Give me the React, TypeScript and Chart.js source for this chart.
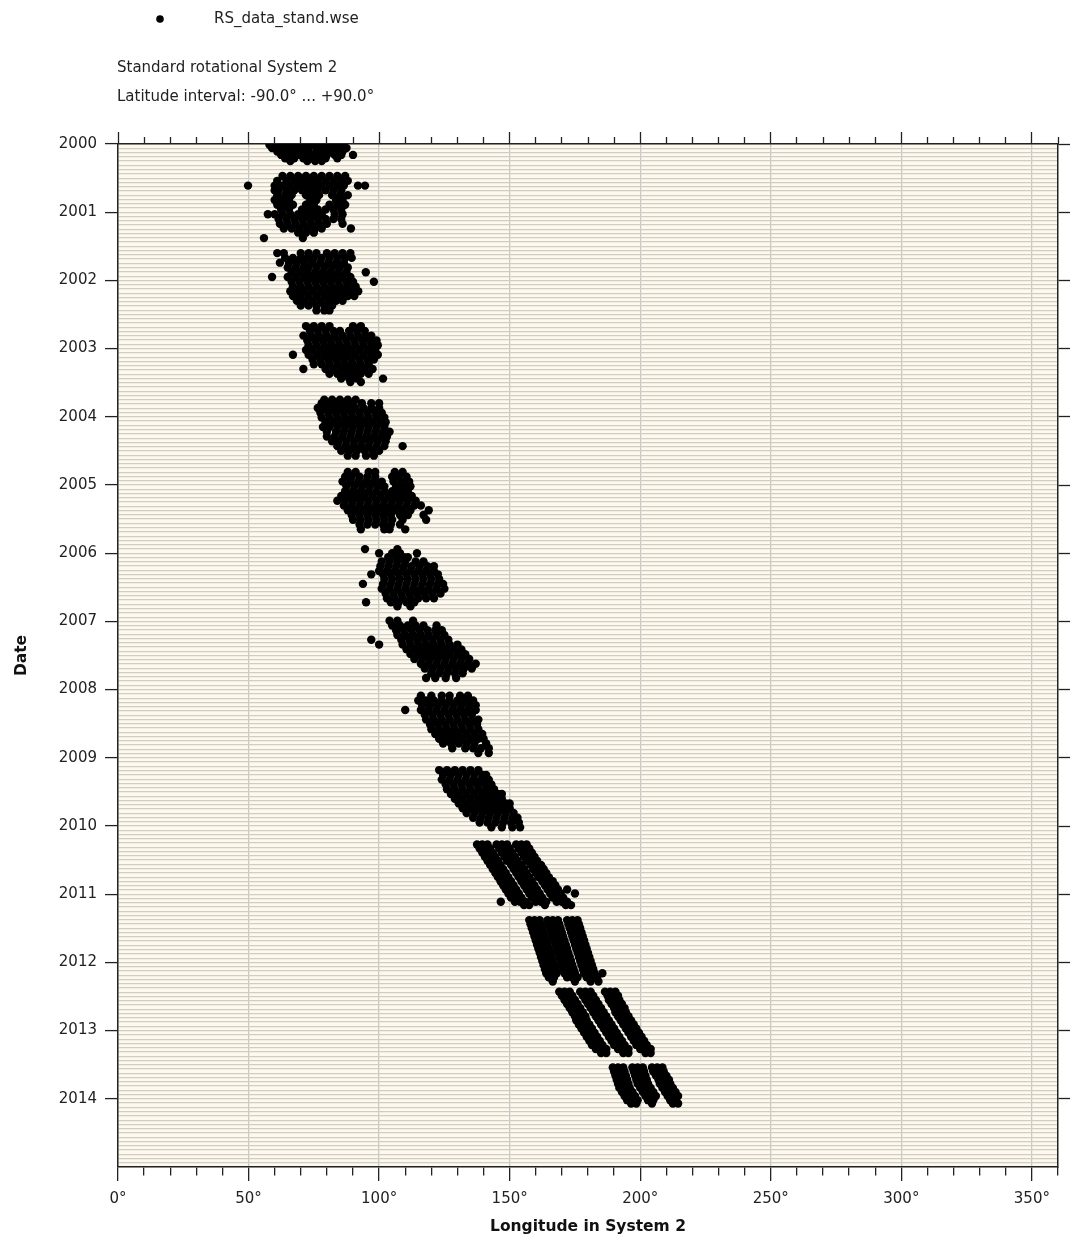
import React, { useEffect, useRef } from 'react';
import { Chart, registerables } from 'chart.js';

Chart.register(...registerables);

// Each row: [date (decimal year), longitude, longitude, ...]
type Row = number[];

const SERIES_LABEL = 'RS_data_stand.wse';
const HEADER_LINES = ['Standard rotational System 2', 'Latitude interval: -90.0° ... +90.0°'];
const X_TITLE = 'Longitude in System 2';
const Y_TITLE = 'Date';
const LON_MIN = 0;
const LON_MAX = 360;
const YEAR_MIN = 2000;
const YEAR_MAX = 2015;

const app2000: Row[] = [
  [2000.01, 58, 60.5, 63, 66, 69, 72, 75, 78, 81, 84, 86.5],
  [2000.06, 59, 62, 65, 68, 70.5, 73, 76, 79, 82.5, 85, 87.5],
  [2000.11, 61, 64, 67, 70, 73, 76, 78.5, 81, 84, 86],
  [2000.16, 62.5, 66, 69, 72, 74.5, 77, 80, 83, 85.5, 90],
  [2000.21, 64, 67.5, 71, 74, 77, 79.5, 84],
  [2000.25, 66, 72.5, 75.5, 78],
];

const app2001: Row[] = [
  [2000.47, 63, 66, 69, 72, 75, 78, 81, 84, 87],
  [2000.54, 61, 64.5, 67.5, 70.5, 73.5, 76.5, 79.5, 82.5, 85.5, 88],
  [2000.61, 49.8, 60, 63, 66, 69, 72, 75, 78, 81, 84, 86.5, 91.9, 94.6],
  [2000.68, 60, 61.5, 64.5, 67.5, 70.5, 73.5, 76.5, 79.5, 82.5, 85.5],
  [2000.75, 61, 64, 66.5, 72, 75, 77, 82, 85, 88],
  [2000.82, 60, 62.5, 65.5, 73.5, 76, 83.5, 86],
  [2000.89, 61, 64, 67, 72, 75, 81, 84, 87],
  [2000.96, 62.5, 65.5, 70.5, 73.5, 76.5, 79.5, 82.5, 85.5],
  [2001.03, 57.4, 60, 63, 66, 69, 72, 75, 78, 83, 86],
  [2001.1, 61.5, 64.5, 67.5, 70.5, 73.5, 76.5, 79.5, 82.5, 85.5],
  [2001.17, 62, 65, 68, 71, 74, 77, 80, 86],
  [2001.24, 63.5, 66.5, 69.5, 72.5, 75.5, 78, 89.2],
  [2001.3, 69, 72, 75],
  [2001.38, 55.9, 70.8],
];

const app2002: Row[] = [
  [2001.6, 61, 63.5, 70, 73, 76, 80, 83, 86, 89],
  [2001.67, 64, 67, 70, 72.5, 75, 78, 81, 84, 87, 89.5],
  [2001.74, 62, 65.5, 68.5, 71.5, 74.5, 77.5, 80.5, 83.5, 86.5],
  [2001.81, 65, 68, 71, 73, 76, 79, 82, 85, 88],
  [2001.88, 66.5, 69.5, 72.5, 75.5, 78.5, 81.5, 84.5, 87.5, 94.9],
  [2001.95, 59, 65, 68, 71, 74, 77, 80, 83, 86, 89],
  [2002.02, 66.5, 69.5, 72.5, 75.5, 78.5, 81.5, 84.5, 87.5, 90, 98],
  [2002.09, 67, 70, 73, 76, 79, 82, 85, 88, 91],
  [2002.16, 66, 68.5, 71.5, 74.5, 77.5, 80.5, 83.5, 86.5, 89.5, 92],
  [2002.23, 67, 70, 73, 76, 79, 82, 85, 88, 90.5],
  [2002.3, 68.5, 71.5, 74.5, 77.5, 80.5, 83.5, 86],
  [2002.37, 70, 73, 76, 79, 82],
  [2002.44, 76, 79, 81],
];

const app2003: Row[] = [
  [2002.67, 72, 75, 78, 81, 90, 93],
  [2002.74, 73.5, 76.5, 79.5, 82.5, 85, 88.5, 91.5, 94.5],
  [2002.81, 71, 74, 77, 80, 83, 86, 89, 92, 95, 97],
  [2002.88, 72.5, 75.5, 78.5, 81.5, 84.5, 87.5, 90.5, 93.5, 96.5, 99],
  [2002.95, 73, 76, 79, 82, 85, 88, 91, 94, 97, 99.5],
  [2003.02, 72, 74.5, 77.5, 80.5, 83.5, 86.5, 89.5, 92.5, 95.5, 98.5],
  [2003.09, 67, 73, 76, 79, 82, 85, 88, 91, 94, 97, 99.5],
  [2003.16, 74.5, 77.5, 80.5, 83.5, 86.5, 89.5, 92.5, 95.5, 98],
  [2003.23, 75, 78, 81, 84, 87, 90, 93, 96],
  [2003.3, 71, 79.5, 82.5, 85.5, 88.5, 91.5, 94.5, 97.5],
  [2003.37, 81, 84, 87, 90, 93, 96],
  [2003.44, 85.5, 88.5, 91.5, 101.5],
  [2003.49, 89, 93],
];

const app2004: Row[] = [
  [2003.75, 79, 82, 85, 88, 91],
  [2003.8, 78, 80.5, 83.5, 86.5, 89.5, 93.4, 97, 100],
  [2003.87, 76.5, 79, 82, 85, 88, 91, 94, 97, 100],
  [2003.94, 77.5, 80.5, 83.5, 86.5, 89.5, 92.5, 95.5, 98.5, 101],
  [2004.01, 78, 81, 84, 87, 90, 93, 96, 99, 102],
  [2004.08, 79.5, 82.5, 85.5, 88.5, 91.5, 94.5, 97.5, 100.5, 102.5],
  [2004.15, 78.5, 81, 84, 87, 90, 93, 96, 99, 102],
  [2004.22, 80, 83.5, 86.5, 89.5, 92.5, 95.5, 98.5, 101.5, 104],
  [2004.29, 80, 83, 86, 89, 92, 95, 98, 101, 103],
  [2004.36, 82, 84.5, 87.5, 90.5, 93.5, 96.5, 99.5, 102.5],
  [2004.43, 84, 87, 90, 93, 96, 99, 102, 109],
  [2004.5, 85.5, 88.5, 91.5, 94.5, 97.5, 100],
  [2004.57, 88, 91, 95, 98],
];

const app2005: Row[] = [
  [2004.81, 88, 91, 96, 98.5, 106, 109],
  [2004.88, 87, 89.5, 92.5, 95.5, 98.5, 105, 107.5, 110.5],
  [2004.95, 86, 89, 92, 95, 98, 101, 105.5, 108.5, 111.5],
  [2005.02, 87.5, 90.5, 93.5, 96.5, 99.5, 102, 106.5, 109.5, 112],
  [2005.09, 87, 90, 93, 96, 99, 102, 105, 108, 111],
  [2005.16, 85.5, 88.5, 91.5, 94.5, 97.5, 100.5, 103.5, 106.5, 109.5, 112.5],
  [2005.23, 84, 87, 90, 93, 96, 99, 102, 105, 108, 111, 114],
  [2005.3, 86.5, 89.5, 92.5, 95.5, 98.5, 101.5, 104.5, 107.5, 110.5, 113.5, 116],
  [2005.37, 88, 91, 94, 97, 100, 103, 106, 109, 112, 119],
  [2005.44, 89.5, 92.5, 95.5, 98.5, 101.5, 104.5, 108, 111, 117],
  [2005.51, 90, 93, 96, 99, 102, 105, 109, 118],
  [2005.58, 92.5, 95.5, 98.5, 101.5, 104.5, 108],
  [2005.65, 93, 102, 104, 110],
];

const app2006: Row[] = [
  [2005.94, 94.6, 107],
  [2006.0, 100, 105, 108, 114.5],
  [2006.06, 103.5, 106.5, 109.5, 111],
  [2006.12, 101, 104, 107, 110, 114, 117],
  [2006.19, 100.5, 103.5, 106.5, 109.5, 112.5, 115.5, 118.5, 121],
  [2006.26, 100, 103, 106, 109, 112, 115, 118, 121],
  [2006.31, 97, 101.5, 104.5, 107.5, 110.5, 113.5, 116.5, 119.5, 122.5],
  [2006.38, 102, 105, 108, 111, 114, 117, 120, 123],
  [2006.45, 93.8, 101.5, 104.5, 107.5, 110.5, 113.5, 116.5, 119.5, 122.5, 124.5],
  [2006.52, 101, 104, 107, 110, 113, 116, 119, 122, 125],
  [2006.59, 102.5, 105.5, 108.5, 111.5, 114.5, 117.5, 120.5, 123.5],
  [2006.66, 103, 106, 109, 112, 115, 118, 121],
  [2006.72, 95, 104.5, 107.5, 110.5, 113.5],
  [2006.78, 107, 112],
];

const app2007: Row[] = [
  [2006.99, 104, 107, 113],
  [2007.06, 105, 108, 111, 114, 117, 122],
  [2007.13, 106.5, 109.5, 112.5, 115.5, 118.5, 121.5, 124],
  [2007.2, 107, 110, 113, 116, 119, 122, 125],
  [2007.27, 97, 108.5, 111.5, 114.5, 117.5, 120.5, 123.5, 126.5],
  [2007.34, 100, 109, 112, 115, 118, 121, 124, 127, 130],
  [2007.41, 110.5, 113.5, 116.5, 119.5, 122.5, 125.5, 128.5, 131.5],
  [2007.48, 112, 115, 118, 121, 124, 127, 130, 133],
  [2007.55, 113.5, 116.5, 119.5, 122.5, 125.5, 128.5, 131.5, 134.5],
  [2007.62, 116, 119, 122, 125, 128, 131, 134, 137],
  [2007.69, 117.5, 120.5, 123.5, 126.5, 129.5, 132.5, 135.5],
  [2007.76, 120, 123, 126, 129, 132],
  [2007.83, 118, 121.5, 125.5, 129.5],
];

const app2008: Row[] = [
  [2008.09, 116, 120, 124, 127, 131, 134],
  [2008.16, 115, 118, 121, 124, 127, 130, 133, 136],
  [2008.23, 116.5, 119.5, 122.5, 125.5, 128.5, 131.5, 134.5, 137],
  [2008.3, 110, 116, 119, 122, 125, 128, 131, 134, 137],
  [2008.37, 117.5, 120.5, 123.5, 126.5, 129.5, 132.5, 135.5],
  [2008.44, 118, 121, 124, 127, 130, 133, 136, 138],
  [2008.51, 119.5, 122.5, 125.5, 128.5, 131.5, 134.5, 137.5],
  [2008.58, 120, 123, 126, 129, 132, 135, 138],
  [2008.65, 121.5, 124.5, 127.5, 130.5, 133.5, 136.5, 139.5],
  [2008.72, 123, 126, 129, 132, 135, 138, 140],
  [2008.79, 124.5, 127.5, 130.5, 133.5, 136.5, 141],
  [2008.86, 128, 133, 136, 139, 142],
  [2008.93, 138, 142],
];

const app2009: Row[] = [
  [2009.18, 123, 126, 129, 132, 135, 138],
  [2009.25, 124.5, 127.5, 130.5, 133.5, 136.5, 139.5, 141],
  [2009.32, 124, 127, 130, 133, 136, 139, 142],
  [2009.39, 125.5, 128.5, 131.5, 134.5, 137.5, 140.5, 143],
  [2009.46, 126, 129, 132, 135, 138, 141, 144],
  [2009.53, 127.5, 130.5, 133.5, 136.5, 139.5, 142.5, 145.5, 147],
  [2009.6, 129, 132, 135, 138, 141, 144, 147],
  [2009.67, 130.5, 133.5, 136.5, 139.5, 142.5, 145.5, 148.5, 150],
  [2009.74, 132, 135, 138, 141, 144, 147, 150],
  [2009.81, 133.5, 136.5, 139.5, 142.5, 145.5, 148.5, 151.5],
  [2009.88, 136, 139, 142, 145, 148, 151, 153],
  [2009.95, 138.5, 141.5, 144.5, 147.5, 150.5, 153.5],
  [2010.02, 143, 147, 151, 154],
];

const app2010: Row[] = [
  [2010.27, 137.5, 139.5, 141.5, 145, 147, 149, 152.5, 154.5, 156.5],
  [2010.33, 138.5, 140.5, 142.5, 146, 148, 150, 153.5, 155.5, 157.5],
  [2010.39, 139.5, 141.5, 143.5, 147, 149, 151, 154.5, 156.5, 158.5],
  [2010.45, 140.5, 142.5, 144.5, 148, 150, 152, 155.5, 157.5, 159.5],
  [2010.51, 141.5, 143.5, 145.5, 149, 151, 153, 156.5, 158.5, 160.5],
  [2010.57, 142.5, 144.5, 146.5, 150.5, 152.5, 154.5, 158, 160, 162],
  [2010.63, 143.5, 145.5, 147.5, 151.5, 153.5, 155.5, 159, 161, 163],
  [2010.69, 144.5, 146.5, 148.5, 152.5, 154.5, 156.5, 160, 162, 164],
  [2010.75, 145.5, 147.5, 149.5, 153.5, 155.5, 157.5, 161, 163, 165],
  [2010.81, 146.5, 148.5, 150.5, 154.5, 156.5, 158.5, 162.5, 164.5, 166.5],
  [2010.87, 147.5, 149.5, 151.5, 155.5, 157.5, 159.5, 163.5, 165.5, 167.5],
  [2010.93, 148.5, 150.5, 152.5, 156.5, 158.5, 160.5, 164.5, 166.5, 168.5, 172],
  [2010.99, 149.5, 151.5, 153.5, 157.5, 159.5, 161.5, 165.5, 167.5, 169.5, 175],
  [2011.05, 150.5, 152.5, 154.5, 158.5, 160.5, 162.5, 166.5, 168.5, 170.5],
  [2011.11, 146.6, 152, 154, 156, 160, 162, 164, 168, 170, 172],
  [2011.16, 155.5, 157.5, 163.5, 171.5, 173.5],
];

const app2011: Row[] = [
  [2011.38, 157.5, 159.5, 161.5, 164.5, 166.5, 168.5, 172, 174, 176],
  [2011.44, 158, 160, 162, 165, 167, 169, 172.5, 174.5, 176.5],
  [2011.5, 158.5, 160.5, 162.5, 165.5, 167.5, 169.5, 173, 175, 177],
  [2011.56, 159, 161, 163, 166, 168, 170, 173.5, 175.5, 177.5],
  [2011.62, 159.5, 161.5, 163.5, 166.5, 168.5, 170.5, 174, 176, 178],
  [2011.68, 160, 162, 164, 167, 169, 171, 174.5, 176.5, 178.5],
  [2011.74, 160.5, 162.5, 164.5, 167.5, 169.5, 171.5, 175, 177, 179],
  [2011.8, 161, 163, 165, 168, 170, 172, 175.5, 177.5, 179.5],
  [2011.86, 161.5, 163.5, 165.5, 168.5, 170.5, 172.5, 176, 178, 180],
  [2011.92, 162, 164, 166, 169, 171, 173, 176.5, 178.5, 180.5],
  [2011.98, 162.5, 164.5, 166.5, 169.5, 171.5, 173.5, 177, 179, 181],
  [2012.04, 163, 165, 167, 170, 172, 174, 177.5, 179.5, 181.5],
  [2012.1, 163.5, 165.5, 167.5, 170.5, 172.5, 174.5, 178, 180, 182],
  [2012.16, 164, 166, 168, 171, 173, 175, 178.5, 180.5, 182.5, 185.5],
  [2012.22, 165, 167, 172, 174, 176, 179.5, 181.5, 183.5],
  [2012.28, 166.5, 175, 181, 184],
];

const app2012: Row[] = [
  [2012.43, 169, 171, 173, 177, 179, 181, 186.5, 188.5, 190.5],
  [2012.49, 170, 172, 174, 178, 180, 182, 187.5, 189.5, 191.5],
  [2012.55, 171, 173, 175, 179, 181, 183, 188, 190, 192],
  [2012.61, 172, 174, 176, 180, 182, 184, 189, 191, 193],
  [2012.67, 173, 175, 177, 181, 183, 185, 190, 192, 194],
  [2012.73, 174, 176, 178, 182, 184, 186, 190.5, 192.5, 194.5],
  [2012.79, 175, 177, 179, 183, 185, 187, 191.5, 193.5, 195.5],
  [2012.85, 175.5, 177.5, 179.5, 184, 186, 188, 192.5, 194.5, 196.5],
  [2012.91, 176.5, 178.5, 180.5, 185, 187, 189, 193.5, 195.5, 197.5],
  [2012.97, 177.5, 179.5, 181.5, 186, 188, 190, 194.5, 196.5, 198.5],
  [2013.03, 178.5, 180.5, 182.5, 187, 189, 191, 195.5, 197.5, 199.5],
  [2013.09, 179.5, 181.5, 183.5, 188, 190, 192, 196.5, 198.5, 200.5],
  [2013.15, 180.5, 182.5, 184.5, 189, 191, 193, 197.5, 199.5, 201.5],
  [2013.21, 181.5, 183.5, 185.5, 190, 192, 194, 198.5, 200.5, 202.5],
  [2013.27, 183, 185, 187, 191.5, 193.5, 195.5, 200, 202, 204],
  [2013.33, 185, 187, 193.5, 195.5, 202, 204],
];

const app2013: Row[] = [
  [2013.54, 189.5, 191.5, 193.5, 197, 199, 201, 204.5, 206.5, 208.5],
  [2013.6, 190, 192, 194, 197.5, 199.5, 201.5, 205, 207, 209],
  [2013.66, 190.5, 192.5, 194.5, 198, 200, 202, 206, 208, 210],
  [2013.72, 191, 193, 195, 198.5, 200.5, 202.5, 207, 209, 211],
  [2013.78, 191.5, 193.5, 195.5, 199, 201, 203, 207.5, 209.5, 211.5],
  [2013.84, 192, 194, 196, 200, 202, 204, 208.5, 210.5, 212.5],
  [2013.9, 193, 195, 197, 201, 203, 205, 209.5, 211.5, 213.5],
  [2013.96, 194, 196, 198, 202, 204, 206, 210.5, 212.5, 214.5],
  [2014.02, 195, 197, 199, 203, 205, 211.5, 213.5],
  [2014.07, 196.5, 198.5, 204.5, 212.5, 214.5],
];

const APPARITIONS: Row[][] = [
  app2000, app2001, app2002, app2003, app2004, app2005, app2006,
  app2007, app2008, app2009, app2010, app2011, app2012, app2013,
];

const toPoints = (rows: Row[]) =>
  rows.flatMap(([date, ...lons]) => lons.map((lon) => ({ x: lon, y: date })));

const FONT = '"DejaVu Sans", Verdana, sans-serif';
const TEXT_COLOR = '#222222';
const AXIS_COLOR = '#222222';
const PLOT_BG = '#fdf9ee';
const H_GRID = '#d2cdc3';
const V_GRID = '#c9c9c9';

const isWhole = (v: number) => Math.abs(v - Math.round(v)) < 1e-6;
const isMajorLon = (v: number) => Math.abs(v % 50) < 1e-6;

const bgPlugin = {
  id: 'plotBg',
  beforeDraw(chart: any) {
    const { ctx, chartArea } = chart;
    if (!chartArea) return;
    ctx.save();
    ctx.fillStyle = PLOT_BG;
    ctx.fillRect(chartArea.left, chartArea.top, chartArea.right - chartArea.left, chartArea.bottom - chartArea.top);
    ctx.restore();
  },
};

const headerPlugin = {
  id: 'header',
  afterDraw(chart: any) {
    const ctx = chart.ctx;
    ctx.save();
    ctx.fillStyle = '#000';
    ctx.beginPath();
    ctx.arc(160, 19, 3.8, 0, Math.PI * 2);
    ctx.fill();
    ctx.fillStyle = TEXT_COLOR;
    ctx.font = `15px ${FONT}`;
    ctx.textAlign = 'left';
    ctx.textBaseline = 'middle';
    ctx.fillText(chart.data.datasets[0].label, 214, 19);
    ctx.fillText(HEADER_LINES[0], 117, 68);
    ctx.fillText(HEADER_LINES[1], 117, 97);
    ctx.restore();
  },
};

export default function App() {
  const ref = useRef<HTMLCanvasElement>(null);

  useEffect(() => {
    if (!ref.current) return;
    const points = APPARITIONS.flatMap(toPoints);
    const chart = new Chart(ref.current, {
      type: 'scatter',
      data: {
        datasets: [
          {
            label: SERIES_LABEL,
            data: points,
            pointRadius: 4.2,
            pointHoverRadius: 4.2,
            pointBackgroundColor: '#000',
            pointBorderWidth: 0,
            clip: 0,
          } as any,
        ],
      },
      options: {
        responsive: false,
        animation: false,
        layout: { padding: 0 },
        font: { family: FONT },
        plugins: {
          legend: { display: false },
          tooltip: { enabled: false },
          title: { display: false },
        },
        scales: {
          x: {
            type: 'linear',
            position: 'bottom',
            min: LON_MIN,
            max: LON_MAX,
            afterFit: (s: any) => { s.height = 73; },
            border: { display: true, color: AXIS_COLOR, width: 1.5 },
            grid: {
              color: (c: any) => (c.tick && isMajorLon(c.tick.value) ? V_GRID : 'rgba(0,0,0,0)'),
              lineWidth: 1.3,
              drawTicks: true,
              tickLength: 14,
              tickColor: AXIS_COLOR,
              tickWidth: 1.3,
              tickBorderDash: (c: any) => (c.tick && isMajorLon(c.tick.value) ? [] : [8, 100]),
            } as any,
            ticks: {
              stepSize: 10,
              autoSkip: false,
              maxRotation: 0,
              padding: 9,
              color: TEXT_COLOR,
              font: { family: FONT, size: 15 },
              callback: (v: any) => (isMajorLon(Number(v)) && Number(v) < LON_MAX ? `${v}°` : ''),
            },
            title: {
              display: true,
              text: X_TITLE,
              color: '#111',
              font: { family: FONT, size: 15.5, weight: 'bold' },
              padding: { top: 0, bottom: 4 },
            },
          },
          x2: {
            type: 'linear',
            position: 'top',
            min: LON_MIN,
            max: LON_MAX,
            afterFit: (s: any) => { s.height = 144; },
            border: { display: true, color: AXIS_COLOR, width: 1.5 },
            grid: {
              drawOnChartArea: false,
              drawTicks: true,
              tickLength: 12,
              tickColor: AXIS_COLOR,
              tickWidth: 1.3,
              tickBorderDash: (c: any) => (c.tick && isMajorLon(c.tick.value) ? [] : [0, 5, 7, 100]),
            } as any,
            ticks: { display: false, stepSize: 10, autoSkip: false },
          },
          y: {
            type: 'linear',
            position: 'left',
            min: YEAR_MIN,
            max: YEAR_MAX,
            reverse: true,
            afterFit: (s: any) => { s.width = 118; },
            border: { display: true, color: AXIS_COLOR, width: 1.5 },
            grid: {
              color: H_GRID,
              lineWidth: 1.2,
              drawTicks: true,
              tickLength: 13,
              tickWidth: 1.3,
              tickColor: (c: any) =>
                c.tick && isWhole(c.tick.value) && c.tick.value < YEAR_MAX ? AXIS_COLOR : 'rgba(0,0,0,0)',
            },
            ticks: {
              stepSize: 0.0625,
              autoSkip: false,
              padding: 8,
              color: TEXT_COLOR,
              font: { family: FONT, size: 15 },
              callback: (v: any) =>
                isWhole(Number(v)) && Number(v) < YEAR_MAX ? String(Math.round(Number(v))) : '',
            },
            title: {
              display: true,
              text: Y_TITLE,
              color: '#111',
              font: { family: FONT, size: 15.5, weight: 'bold' },
              padding: { top: 13, bottom: 0 },
            },
          },
          y2: {
            type: 'linear',
            position: 'right',
            min: YEAR_MIN,
            max: YEAR_MAX,
            reverse: true,
            afterFit: (s: any) => { s.width = 13; },
            border: { display: true, color: AXIS_COLOR, width: 1.5 },
            grid: {
              drawOnChartArea: false,
              drawTicks: true,
              tickLength: 12,
              tickWidth: 1.3,
              tickColor: (c: any) => (c.tick && c.tick.value < YEAR_MAX ? AXIS_COLOR : 'rgba(0,0,0,0)'),
            },
            ticks: { display: false, stepSize: 1, autoSkip: false },
          },
        },
      } as any,
      plugins: [bgPlugin, headerPlugin],
    });
    return () => chart.destroy();
  }, []);

  return (
    <div style={{ position: 'absolute', left: 0, top: 0, width: 1071, height: 1240, background: '#fff' }}>
      <canvas ref={ref} width={1071} height={1240} style={{ display: 'block', width: 1071, height: 1240 }} />
    </div>
  );
}
